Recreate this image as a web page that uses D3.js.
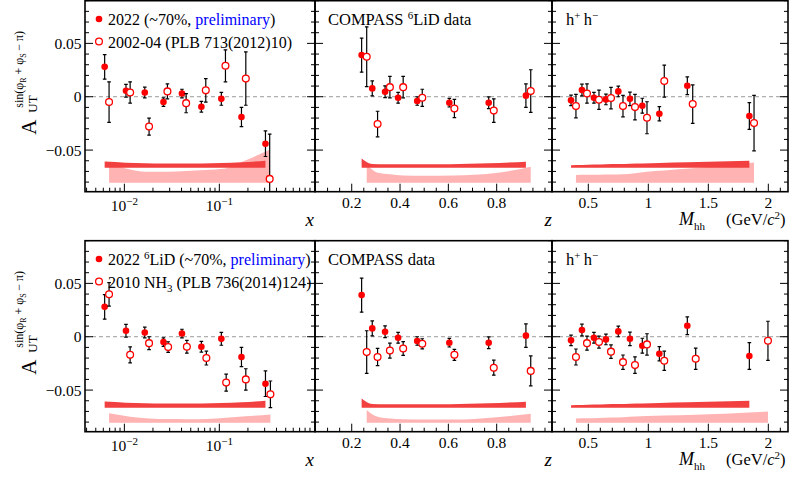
<!DOCTYPE html>
<html>
<head>
<meta charset="utf-8">
<script src="https://cdn.jsdelivr.net/npm/d3@7"></script>
<style>
body{margin:0;background:#fff;}
</style>
</head>
<body>
<div id="chart"></div>
<script>
// ---- x bins ----
var xBin2022 = [0.0062,0.0104,0.0164,0.0258,0.0404,0.0647,0.105,0.171,0.306];
var xAsy2022 = [0.028,0.0056,0.004,-0.005,0.003,-0.0094,-0.002,-0.019,-0.044];
var xErr2022 = [0.0115,0.006,0.005,0.004,0.004,0.005,0.006,0.009,0.012];
var xSys2022 = [0.0058,0.0048,0.0042,0.004,0.004,0.004,0.0045,0.0052,0.0066];

var xBin0204 = [0.0069,0.0115,0.0182,0.0284,0.0447,0.072,0.116,0.19,0.339];
var xAsy0204 = [-0.005,0.004,-0.028,0.005,-0.006,0.006,0.029,0.017,-0.077];
var xErr0204 = [0.019,0.010,0.008,0.007,0.009,0.011,0.015,0.025,0.042];
var xSys0204 = [0.018,0.0125,0.0103,0.0103,0.011,0.012,0.0134,0.021,0.031];

var xBin2010 = [0.0069,0.0115,0.0182,0.0289,0.0455,0.073,0.118,0.19,0.345];
var xAsy2010 = [0.0397,-0.017,-0.006,-0.0097,-0.0094,-0.020,-0.043,-0.040,-0.054];
var xErr2010 = [0.011,0.0075,0.006,0.005,0.006,0.0065,0.008,0.010,0.0125];
var xSys2010 = [0.0088,0.0056,0.004,0.0034,0.0033,0.0035,0.0047,0.006,0.0078];

// ---- z bins ----
var zBin2022 = [0.241,0.285,0.338,0.392,0.471,0.604,0.767,0.921];
var zAsy2022 = [0.039,0.0078,0.0047,-0.001,-0.004,-0.0056,-0.0056,0.001];
var zErr2022 = [0.016,0.007,0.0055,0.005,0.004,0.004,0.0055,0.011];
var zSys2022 = [0.0088,0.0036,0.0034,0.0033,0.0033,0.0034,0.0042,0.0056];

var zBin0204 = [0.262,0.307,0.358,0.413,0.492,0.625,0.788,0.941];
var zAsy0204 = [0.0375,-0.0256,0.009,0.009,-0.001,-0.011,-0.013,0.0053];
var zErr0204 = [0.028,0.012,0.010,0.010,0.008,0.0085,0.011,0.02];
var zSys0204 = [0.017,0.0094,0.008,0.0068,0.0066,0.0068,0.0088,0.015];

var zBin2010 = [0.262,0.307,0.358,0.413,0.492,0.625,0.788,0.941];
var zAsy2010 = [-0.0144,-0.019,-0.013,-0.011,-0.0066,-0.017,-0.029,-0.032];
var zErr2010 = [0.02,0.008,0.007,0.0065,0.0047,0.0052,0.007,0.014];
var zSys2010 = [0.012,0.0056,0.004,0.0033,0.003,0.003,0.005,0.0084];

// ---- Mhh bins ----
var mBin2022 = [0.356,0.447,0.547,0.647,0.75,0.847,0.95,1.092,1.325,1.842];
var mAsy2022 = [-0.0034,0.0063,-0.001,-0.0025,0.005,-0.002,-0.0084,-0.016,0.0103,-0.018];
var mErr2022 = [0.005,0.0055,0.005,0.005,0.005,0.0064,0.007,0.0067,0.0083,0.0125];
var mSys2022 = [0.0025,0.0027,0.003,0.0033,0.0035,0.0038,0.004,0.0045,0.0052,0.0066];

var mBin0204 = [0.397,0.489,0.589,0.689,0.789,0.889,0.989,1.133,1.37,1.881];
var mAsy0204 = [-0.0088,0.003,-0.0028,-0.0013,-0.0088,-0.0097,-0.0197,0.0147,-0.0069,-0.0247];
var mErr0204 = [0.011,0.009,0.009,0.010,0.01,0.012,0.015,0.015,0.018,0.026];
var mSys0204 = [0.0072,0.0074,0.0076,0.0078,0.008,0.009,0.0103,0.0115,0.0135,0.019];

var mBin2010 = [0.397,0.489,0.589,0.689,0.789,0.889,0.989,1.133,1.395,1.997];
var mAsy2010 = [-0.019,-0.006,-0.005,-0.014,-0.0238,-0.0266,-0.0072,-0.0225,-0.0206,-0.0038];
var mErr2010 = [0.0075,0.0066,0.0056,0.0063,0.0067,0.0078,0.01,0.009,0.010,0.0183];
var mSys2010 = [0.004,0.0042,0.0045,0.0048,0.0052,0.0058,0.0063,0.0067,0.0075,0.0106];

// ---- ticks ----
var yTicks = [-0.05, 0, 0.05];
var yTickText = ['\u22120.05', '0', '0.05'];
var xTicks = [0.01, 0.1];
var xTickExp = ['\u22122', '\u22121'];
var zTicks = [0.2, 0.4, 0.6, 0.8];
var zTickText = ['0.2', '0.4', '0.6', '0.8'];
var mTicks = [0.5, 1, 1.5, 2];
var mTickText = ['0.5', '1', '1.5', '2'];

var sysBase2022 = -0.0666;   // dark band baseline
var sysBaseOld  = -0.0806;   // light band baseline

var W = 790, H = 477;
var colX = [[85,315],[315,552],[552,788]];
var rowY = [[191.7,0.7],[431.7,240.7]];
var yDomain = [-0.089, 0.09];
var red = '#ff0000';
var bandDark = '#f24040';
var bandLight = '#ffb3b3';
var serif = "'Liberation Serif', 'DejaVu Serif', 'Times New Roman', serif";

function zip(b, a, e, s){
	return b.map(function(v, i){ return {x:v, a:a[i], e:e[i], s:s[i]}; });
}

var cols = [
	{ kind:'log', domain:[0.00385,1.017],
	  newSet: zip(xBin2022,xAsy2022,xErr2022,xSys2022),
	  oldSet: [zip(xBin0204,xAsy0204,xErr0204,xSys0204), zip(xBin2010,xAsy2010,xErr2010,xSys2010)],
	  minor: [4,5,6,7,8,9].map(function(k){return k/1000;})
	         .concat([2,3,4,5,6,7,8,9].map(function(k){return k/100;}))
	         .concat([2,3,4,5,6,7,8,9].map(function(k){return k/10;})) },
	{ kind:'lin', domain:[0.048,1.029], ticks:zTicks, tickText:zTickText,
	  newSet: zip(zBin2022,zAsy2022,zErr2022,zSys2022),
	  oldSet: [zip(zBin0204,zAsy0204,zErr0204,zSys0204), zip(zBin2010,zAsy2010,zErr2010,zSys2010)],
	  minor: d3.range(1, 21).map(function(k){return k*0.05;}) },
	{ kind:'lin', domain:[0.1975,2.164], ticks:mTicks, tickText:mTickText,
	  newSet: zip(mBin2022,mAsy2022,mErr2022,mSys2022),
	  oldSet: [zip(mBin0204,mAsy0204,mErr0204,mSys0204), zip(mBin2010,mAsy2010,mErr2010,mSys2010)],
	  minor: d3.range(2, 22).map(function(k){return k*0.1;}) }
];

var svg = d3.select('#chart').append('svg')
	.attr('width', W).attr('height', H)
	.attr('font-family', serif)
	.style('display', 'block');
var defs = svg.append('defs');

function xScaleFor(c){
	var col = cols[c];
	return (col.kind === 'log' ? d3.scaleLog() : d3.scaleLinear())
		.domain(col.domain).range(colX[c]);
}

function drawBand(g, xs, ys, set, base, color){
	var area = d3.area()
		.x(function(d){ return xs(d.x); })
		.y0(ys(base))
		.y1(function(d){ return ys(base + d.s); })
		.curve(d3.curveMonotoneX);
	g.append('path').attr('d', area(set)).attr('fill', color);
}

function drawPoints(g, xs, ys, set, open){
	var p = g.append('g');
	set.forEach(function(d){
		var cx = xs(d.x);
		p.append('line').attr('x1',cx).attr('x2',cx)
		 .attr('y1',ys(d.a-d.e)).attr('y2',ys(d.a+d.e))
		 .attr('stroke','#000').attr('stroke-width',1.2);
		[d.a-d.e, d.a+d.e].forEach(function(v){
			p.append('line').attr('x1',cx-1.8).attr('x2',cx+1.8)
			 .attr('y1',ys(v)).attr('y2',ys(v))
			 .attr('stroke','#000').attr('stroke-width',1.2);
		});
	});
	set.forEach(function(d){
		var c = p.append('circle').attr('cx',xs(d.x)).attr('cy',ys(d.a));
		if(open){
			c.attr('r',3.4).attr('fill','#fff').attr('stroke',red).attr('stroke-width',1.3);
		}else{
			c.attr('r',3.3).attr('fill',red);
		}
	});
}

function drawPanel(r, c){
	var col = cols[c];
	var x0 = colX[c][0], x1 = colX[c][1];
	var yb = rowY[r][0], yt = rowY[r][1];
	var xs = xScaleFor(c);
	var ys = d3.scaleLinear().domain(yDomain).range([yb, yt]);
	var id = 'clip' + r + c;
	defs.append('clipPath').attr('id', id).append('rect')
		.attr('x', x0).attr('y', yt).attr('width', x1-x0).attr('height', yb-yt);

	var g = svg.append('g');
	var inner = g.append('g').attr('clip-path', 'url(#' + id + ')');

	// zero line
	inner.append('line').attr('x1',x0).attr('x2',x1).attr('y1',ys(0)).attr('y2',ys(0))
		.attr('stroke','#9a9a9a').attr('stroke-width',1).attr('stroke-dasharray','4 3');

	drawBand(inner, xs, ys, col.oldSet[r], sysBaseOld, bandLight);
	drawBand(inner, xs, ys, col.newSet, sysBase2022, bandDark);
	drawPoints(inner, xs, ys, col.newSet, false);
	drawPoints(inner, xs, ys, col.oldSet[r], true);

	// y ticks both sides
	var yMinor = d3.range(-8, 10).map(function(k){ return k/100; });
	yMinor.forEach(function(v){
		var major = yTicks.some(function(t){ return Math.abs(t-v) < 1e-9; });
		var len = major ? 8 : 4;
		g.append('line').attr('x1',x0).attr('x2',x0+len).attr('y1',ys(v)).attr('y2',ys(v))
			.attr('stroke','#000').attr('stroke-width',1);
		g.append('line').attr('x1',x1).attr('x2',x1-len).attr('y1',ys(v)).attr('y2',ys(v))
			.attr('stroke','#000').attr('stroke-width',1);
	});
	// x ticks
	var majors = col.kind === 'log' ? xTicks : col.ticks;
	majors.forEach(function(v){
		g.append('line').attr('x1',xs(v)).attr('x2',xs(v)).attr('y1',yb).attr('y2',yb-8)
			.attr('stroke','#000').attr('stroke-width',1);
	});
	col.minor.forEach(function(v){
		if(majors.some(function(t){ return Math.abs(t-v) < 1e-9; })) return;
		if(xs(v) <= x0 || xs(v) >= x1) return;
		g.append('line').attr('x1',xs(v)).attr('x2',xs(v)).attr('y1',yb).attr('y2',yb-4)
			.attr('stroke','#000').attr('stroke-width',1);
	});

	// frame
	g.append('rect').attr('x',x0).attr('y',yt).attr('width',x1-x0).attr('height',yb-yt)
		.attr('fill','none').attr('stroke','#000').attr('stroke-width',1.6);
}

// tick labels and axis titles, drawn last on their own layer
function drawLabels(layer, r, c){
	var col = cols[c];
	var x0 = colX[c][0], x1 = colX[c][1];
	var yb = rowY[r][0], yt = rowY[r][1];
	var xs = xScaleFor(c);
	var ys = d3.scaleLinear().domain(yDomain).range([yb, yt]);
	var g = layer.append('g');

	if(col.kind === 'log'){
		xTicks.forEach(function(v, i){
			var lt = g.append('text').attr('x', xs(v)).attr('y', yb+19)
				.attr('text-anchor','middle').attr('font-size','15.5px');
			lt.append('tspan').text('10');
			lt.append('tspan').attr('dy',-6).attr('font-size','11px').text(xTickExp[i]);
		});
	}else{
		col.ticks.forEach(function(v, i){
			g.append('text').attr('x', xs(v)).attr('y', yb+16)
				.attr('text-anchor','middle').attr('font-size','15.5px')
				.text(col.tickText[i]);
		});
	}
	if(c === 0){
		yTicks.forEach(function(v, i){
			g.append('text').attr('x', x0-3.5).attr('y', ys(v)+5.5)
				.attr('text-anchor','end').attr('font-size','15.5px').text(yTickText[i]);
		});
		g.append('text').attr('x', x1-1).attr('y', yb+34).attr('text-anchor','end')
			.attr('font-size','19px').attr('font-style','italic').text('x');
	}else if(c === 1){
		g.append('text').attr('x', x1).attr('y', yb+34).attr('text-anchor','end')
			.attr('font-size','19px').attr('font-style','italic').text('z');
	}else{
		// one text element for the whole Mhh title
		var t = g.append('text').attr('x', 679).attr('y', yb+33.5)
			.attr('font-size','16.5px');
		t.append('tspan').attr('font-size','18px').attr('font-style','italic').text('M');
		t.append('tspan').attr('font-size','11px').attr('dy',4.5).text('hh');
		t.append('tspan').attr('dy',-4.5).attr('dx',21).text('(GeV/');
		t.append('tspan').attr('font-style','italic').text('c');
		t.append('tspan').attr('font-size','11px').attr('dy',-6).text('2');
		t.append('tspan').attr('dy',6).text(')');
	}
}

var r, c;
for(r = 0; r < 2; r++){
	for(c = 0; c < 3; c++){
		drawPanel(r, c);
	}
}
var labelLayer = svg.append('g');
for(r = 0; r < 2; r++){
	for(c = 0; c < 3; c++){
		drawLabels(labelLayer, r, c);
	}
}

// y-axis titles
[96.7, 336.7].forEach(function(y0){
	var g = svg.append('g').attr('transform','translate(36,' + (y0+38) + ') rotate(-90)');
	g.append('text').attr('x',0).attr('y',0).attr('font-size','21px').text('A');
	g.append('text').attr('x',22).attr('y',0.5).attr('font-size','13px').text('UT');
	var s = g.append('text').attr('x',27).attr('y',-13).attr('font-size','12px');
	s.append('tspan').text('sin(\u03c6');
	s.append('tspan').attr('font-size','8px').attr('dy',3).text('R');
	s.append('tspan').attr('dy',-3).text(' + \u03c6');
	s.append('tspan').attr('font-size','8px').attr('dy',3).text('S');
	s.append('tspan').attr('dy',-3).text('\u2009\u2212 \u03c0)');
});

// legends and panel labels
function legendRow(y, open, build){
	var c = svg.append('circle').attr('cx',99).attr('cy',y);
	if(open){ c.attr('r',3.4).attr('fill','#fff').attr('stroke',red).attr('stroke-width',1.3); }
	else{ c.attr('r',3.3).attr('fill',red); }
	var t = svg.append('text').attr('x',108).attr('y',y+6).attr('font-size','16px');
	build(t);
}
legendRow(19, false, function(t){
	t.append('tspan').text('2022 (~70%, ');
	t.append('tspan').attr('fill','#0000ff').text('preliminary');
	t.append('tspan').text(')');
});
legendRow(41.5, true, function(t){
	t.append('tspan').text('2002-04 (PLB 713(2012)10)');
});
legendRow(259, false, function(t){
	t.append('tspan').text('2022 ');
	t.append('tspan').attr('font-size','11px').attr('dy',-6).text('6');
	t.append('tspan').attr('dy',6).text('LiD (~70%, ');
	t.append('tspan').attr('fill','#0000ff').text('preliminary');
	t.append('tspan').text(')');
});
legendRow(281.5, true, function(t){
	t.append('tspan').text('2010 NH');
	t.append('tspan').attr('font-size','11px').attr('dy',4).text('3');
	t.append('tspan').attr('dy',-4).text(' (PLB 736(2014)124)');
});

var lab1 = svg.append('text').attr('x',328).attr('y',25).attr('font-size','16.5px');
lab1.append('tspan').text('COMPASS ');
lab1.append('tspan').attr('font-size','11px').attr('dy',-6).text('6');
lab1.append('tspan').attr('dy',6).text('LiD data');
svg.append('text').attr('x',328).attr('y',265).attr('font-size','16.5px').text('COMPASS data');

[25, 265].forEach(function(y){
	var t = svg.append('text').attr('x',566).attr('y',y).attr('font-size','16.5px');
	t.append('tspan').text('h');
	t.append('tspan').attr('font-size','11px').attr('dy',-6).text('+');
	t.append('tspan').attr('dy',6).text('\u2009h');
	t.append('tspan').attr('font-size','11px').attr('dy',-6).text('\u2212');
});
</script>
</body>
</html>
